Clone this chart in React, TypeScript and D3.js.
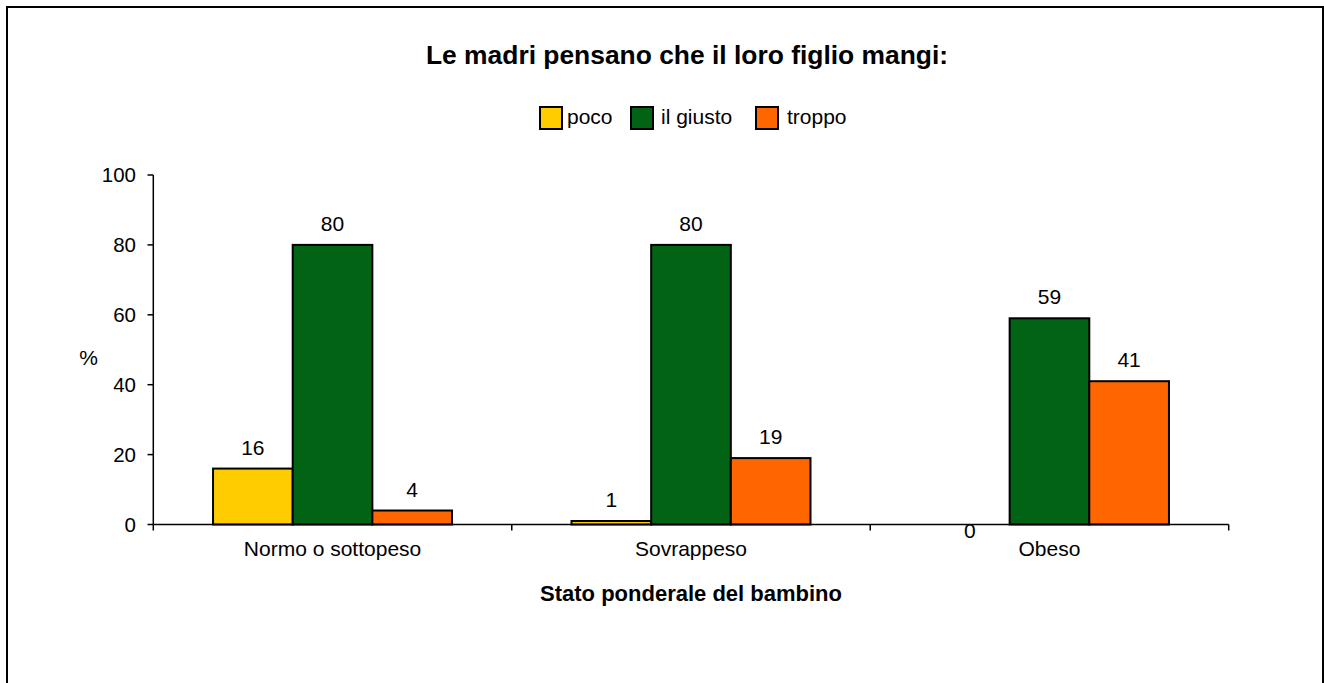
import React from "react";
import * as d3 from "d3";

const categories = ["Normo o sottopeso", "Sovrappeso", "Obeso"];
const seriesNames = ["poco", "il giusto", "troppo"];
const poco = [16, 1, 0];
const giusto = [80, 80, 59];
const troppo = [4, 19, 41];
const yTicks = [0, 20, 40, 60, 80, 100];
const colors = ["#FFCC00", "#036315", "#FF6600"];

const W = 1324;
const H = 683;
const FONT = "'Liberation Sans', Arial, Helvetica, sans-serif";

export default function App() {
  const series = [poco, giusto, troppo];
  const x0 = d3.scaleBand<string>().domain(categories).range([153.3, 1228.7]).paddingInner(0).paddingOuter(0);
  const bw = x0.bandwidth() / 4.5;
  const x1 = d3
    .scaleBand<string>()
    .domain(seriesNames)
    .range([x0.bandwidth() / 2 - 1.5 * bw, x0.bandwidth() / 2 + 1.5 * bw]);
  const y = d3.scaleLinear().domain([0, 100]).range([524.5, 175]);

  const legendItems = [
    { name: seriesNames[0], box: 540, text: 567 },
    { name: seriesNames[1], box: 631, text: 661 },
    { name: seriesNames[2], box: 756, text: 787 },
  ];

  return (
    <svg
      width={W}
      height={H}
      style={{ position: "absolute", left: 0, top: 0, background: "#fff" }}
      fontFamily={FONT}
    >
      <rect x={0} y={0} width={W} height={H} fill="#fff" />
      <rect x={7} y={7} width={1316} height={720} fill="none" stroke="#000" strokeWidth={2} />

      <text x={687} y={64} textAnchor="middle" fontSize={26.4} fontWeight="bold" fill="#000">
        Le madri pensano che il loro figlio mangi:
      </text>

      {legendItems.map((it, i) => (
        <g key={it.name}>
          <rect x={it.box} y={107} width={22} height={22} fill={colors[i]} stroke="#000" strokeWidth={2} />
          <text x={it.text} y={124} fontSize={21} fill="#000">
            {it.name}
          </text>
        </g>
      ))}

      {categories.map((c, ci) => (
        <g key={c} transform={`translate(${x0(c)},0)`}>
          {series.map((s, si) => {
            const v = s[ci];
            const bx = x1(seriesNames[si])!;
            const top = y(v);
            const h = y(0) - top;
            return (
              <g key={si}>
                {v > 0 && (
                  <rect x={bx} y={top} width={x1.bandwidth()} height={h} fill={colors[si]} stroke="#000" strokeWidth={2} />
                )}
                <text
                  x={bx + x1.bandwidth() / 2}
                  y={v > 0 ? top - 14 : y(0) + 13}
                  textAnchor="middle"
                  fontSize={21}
                  fill="#000"
                >
                  {v}
                </text>
              </g>
            );
          })}
        </g>
      ))}

      {/* y axis */}
      <line x1={153.3} x2={153.3} y1={y(100)} y2={y(0)} stroke="#000" strokeWidth={1.5} />
      {yTicks.map((t) => (
        <g key={t}>
          <line x1={147.5} x2={153.3} y1={y(t)} y2={y(t)} stroke="#000" strokeWidth={1.5} />
          <text x={136} y={y(t) + 7} textAnchor="end" fontSize={20.5} fill="#000">
            {t}
          </text>
        </g>
      ))}
      <text x={88.5} y={365} textAnchor="middle" fontSize={21} fill="#000">
        %
      </text>

      {/* x axis */}
      <line x1={153.3} x2={1228.7} y1={y(0)} y2={y(0)} stroke="#000" strokeWidth={1.5} />
      {[...categories.map((c) => x0(c)!), 1228.7].map((xv, i) => (
        <line key={i} x1={xv} x2={xv} y1={y(0)} y2={y(0) + 6} stroke="#000" strokeWidth={1.5} />
      ))}
      {categories.map((c) => (
        <text key={c} x={x0(c)! + x0.bandwidth() / 2} y={556} textAnchor="middle" fontSize={21} fill="#000">
          {c}
        </text>
      ))}
      <text x={691} y={601} textAnchor="middle" fontSize={22} fontWeight="bold" fill="#000">
        Stato ponderale del bambino
      </text>
    </svg>
  );
}
